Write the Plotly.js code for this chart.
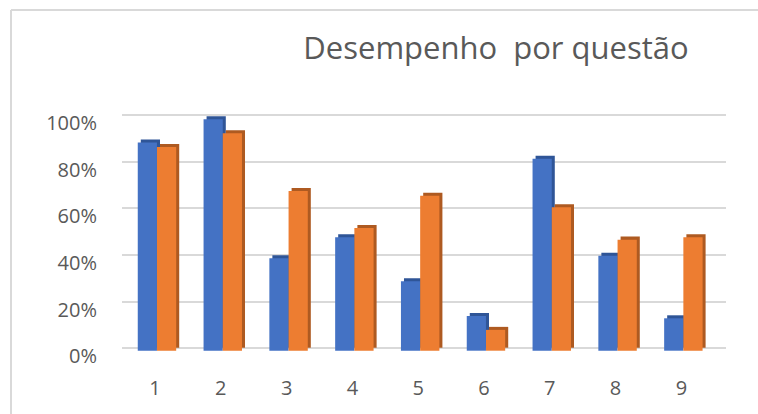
<!DOCTYPE html>
<html>
<head>
<meta charset="utf-8">
<script src="https://cdn.plot.ly/plotly-3.0.1.min.js"></script>
<style>
html,body{margin:0;padding:0;background:#fff;}
#chart{width:758px;height:414px;}
</style>
</head>
<body>
<div id="chart"></div>
<script>
// ---- data ----
const categories = ["1","2","3","4","5","6","7","8","9"];
const serieA = [0.90, 1.00, 0.40, 0.49, 0.30, 0.15, 0.83, 0.41, 0.14];
const serieB = [0.88, 0.94, 0.69, 0.53, 0.67, 0.09, 0.62, 0.48, 0.49];
const yTickVals = [0, 0.2, 0.4, 0.6, 0.8, 1.0];
const yTickText = ["0%", "20%", "40%", "60%", "80%", "100%"];
const chartTitle = "Desempenho\u00a0 por questão";

// ---- styling ----
const blue = "#4472C4", blueSide = "#2F5597";
const orange = "#ED7D31", orangeSide = "#AE5A21";
const barW = 0.292, dx = 0.046, dy = 0.013;
const offA = -0.262, offB = 0.03;

function bar(vals, color, off, base, axis) {
  return {
    type: "bar", x: categories, y: vals, base: base,
    width: barW, offset: off, yaxis: axis,
    marker: {color: color, line: {width: 0}},
    hoverinfo: "skip", showlegend: false
  };
}

const traces = [
  // invisible carrier so the back-wall axis (gridlines + labels) is drawn
  {type: "scatter", mode: "markers", x: categories, y: serieA, yaxis: "y",
   marker: {opacity: 0}, hoverinfo: "skip", showlegend: false},
  bar(serieA, blueSide, offA + dx, dy, "y2"),
  bar(serieA, blue, offA, 0, "y2"),
  bar(serieB, orangeSide, offB + dx, dy, "y2"),
  bar(serieB, orange, offB, 0, "y2"),
];

const L = 122, R = 726, T = 100, B = 356, W = 758, H = 414;
const px = v => (v - L) / (R - L);
const py = v => (B - v) / (B - T);

const layout = {
  width: W, height: H,
  margin: {l: L, r: W - R, t: T, b: H - B, pad: 0},
  paper_bgcolor: "#ffffff", plot_bgcolor: "rgba(0,0,0,0)",
  barmode: "overlay",
  font: {family: "'Open Sans', 'Noto Sans', sans-serif", color: "#595959"},
  title: {
    text: chartTitle,
    font: {family: "'Open Sans', 'Noto Sans', sans-serif", size: 31, color: "#595959"},
    xref: "container", yref: "container",
    x: 496 / W, xanchor: "center",
    y: 1 - 48 / H, yanchor: "middle"
  },
  xaxis: {
    type: "category", range: [-0.5015, 8.678],
    showgrid: false, zeroline: false, showline: false,
    ticks: "", ticklabelstandoff: 18,
    tickfont: {size: 20, color: "#595959"},
    fixedrange: true
  },
  yaxis: {
    range: [-(B - 348.3) / 233.3, 1 + (115 - T) / 233.3],
    tickmode: "array", tickvals: yTickVals, ticktext: yTickText,
    showgrid: true, gridcolor: "#D9D9D9", gridwidth: 2,
    zeroline: false, showline: false, ticks: "",
    ticklabelstandoff: 24, ticklabelshift: 8,
    tickfont: {size: 20, color: "#595959"},
    fixedrange: true
  },
  yaxis2: {
    overlaying: "y", side: "left",
    range: [-(B - 350.7) / 231.4, 1 + (119.3 - T) / 231.4],
    showgrid: false, zeroline: false, showline: false,
    showticklabels: false, ticks: "", fixedrange: true
  },
  shapes: [
    {type: "line", xref: "paper", yref: "paper", x0: px(11), x1: px(W + 5), y0: py(10), y1: py(10),
     line: {color: "#D9D9D9", width: 2}},
    {type: "line", xref: "paper", yref: "paper", x0: px(11), x1: px(11), y0: py(10), y1: py(H + 5),
     line: {color: "#D9D9D9", width: 2}}
  ]
};

Plotly.newPlot("chart", traces, layout, {displayModeBar: false, staticPlot: true});
</script>
</body>
</html>
